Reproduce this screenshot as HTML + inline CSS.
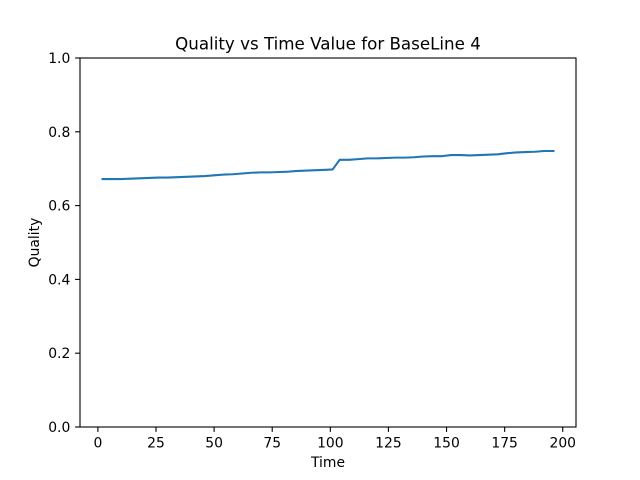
<!DOCTYPE html>
<html><head><meta charset="utf-8"><style>
body{margin:0;background:#fff;}
svg{display:block;font-family:"DejaVu Sans","Liberation Sans",sans-serif;}
</style></head><body>
<svg id="c" width="640" height="480"></svg>
<script>
const times=[2,6,10,14,18,22,26,30,34,38,42,46,50,54,58,62,66,70,74,78,82,86,90,94,98,101,104,108,112,116,120,124,128,132,136,140,144,148,152,156,160,164,168,172,176,180,184,188,192,196];
const quality=[0.672,0.672,0.672,0.673,0.674,0.675,0.676,0.676,0.677,0.678,0.679,0.680,0.682,0.684,0.685,0.687,0.689,0.690,0.690,0.691,0.692,0.694,0.695,0.696,0.697,0.698,0.724,0.724,0.726,0.728,0.728,0.729,0.730,0.730,0.731,0.733,0.734,0.734,0.737,0.737,0.736,0.737,0.738,0.739,0.742,0.744,0.745,0.746,0.748,0.748];
const xTicks=[0,25,50,75,100,125,150,175,200];
const yTicks=[0.0,0.2,0.4,0.6,0.8,1.0];
const L=80,R=576,T=58,B=427,xmin=-7.7,xmax=205.7;
const X=v=>L+(v-xmin)/(xmax-xmin)*(R-L);
const Y=v=>B-(v-0)/(1-0)*(B-T);
const s=document.getElementById('c');const NS='http://www.w3.org/2000/svg';
function el(t,a,txt){const e=document.createElementNS(NS,t);for(const k in a)e.setAttribute(k,a[k]);if(txt!=null)e.textContent=txt;s.appendChild(e);return e;}
let d='';times.forEach((t,i)=>{d+=(i?'L':'M')+X(t).toFixed(2)+','+Y(quality[i]).toFixed(2);});
const ln=el('path',{d:d,fill:'none',stroke:'#1f77b4','stroke-width':2.08,'stroke-linejoin':'round','stroke-linecap':'square'});


xTicks.forEach(v=>{const x=X(v);
const tk=el('line',{x1:x,x2:x,y1:B,y2:B+4.9,stroke:'#000','stroke-width':1.1});


const tl=el('text',{x:x,y:B+20.5,'text-anchor':'middle','font-size':13.9},String(v));

});
yTicks.forEach(v=>{const y=Y(v);
const tk=el('line',{x1:L-4.9,x2:L,y1:y,y2:y,stroke:'#000','stroke-width':1.1});


const tl=el('text',{x:L-9.7,y:y+5,'text-anchor':'end','font-size':13.9},v.toFixed(1));

});
const fr=el('rect',{x:L,y:T,width:R-L,height:B-T,fill:'none',stroke:'#000','stroke-width':1.1});


const tt=el('text',{x:(L+R)/2,y:T-8.5,'text-anchor':'middle','font-size':16.7},'Quality vs Time Value for BaseLine 4');


const xt=el('text',{x:(L+R)/2,y:467,'text-anchor':'middle','font-size':13.9},'Time');


const yt=el('text',{x:0,y:0,'text-anchor':'middle','font-size':13.9,transform:'translate(39,'+((T+B)/2)+') rotate(-90)'},'Quality');


</script>
</body></html>
